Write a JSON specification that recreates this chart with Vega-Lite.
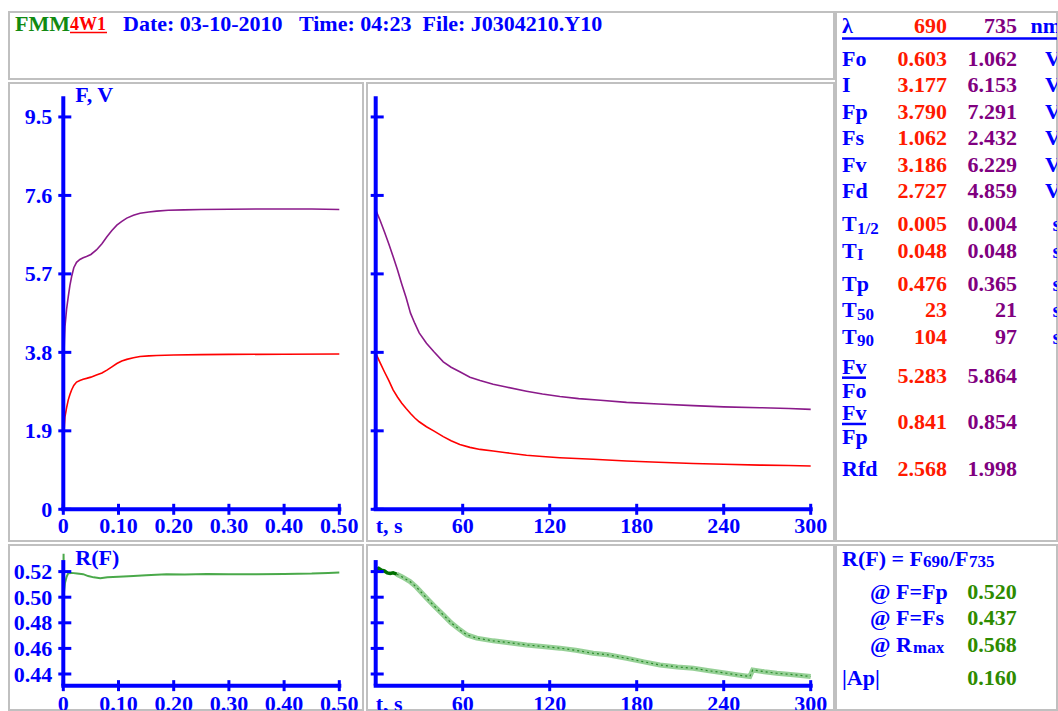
{
"$schema": "https://vega.github.io/schema/vega-lite/v6.json",
"background": "white",
"padding": {"left": 8, "top": 11, "right": 0, "bottom": 0},
"spacing": 0,
"config": {
  "view": {"stroke": "#c0c0c0", "strokeWidth": 2},
  "axis": {"disable": true},
  "legend": {"disable": true},
  "text": {"font": "Liberation Serif", "fontWeight": "bold", "fontSize": 22, "baseline": "alphabetic"},
  "tick": {"opacity": 1}
},
"datasets": {
  "header": [{"program": "FMM", "version": "4W1", "info": "Date: 03-10-2010\u00a0\u00a0\u00a0Time: 04:23\u00a0\u00a0File: J0304210.Y10"}],
  "fastF": [
    {"t":0,"F":0.60,"lambda":"690"},{"t":0.0005,"F":1.3,"lambda":"690"},{"t":0.001,"F":1.8,"lambda":"690"},{"t":0.002,"F":2.05,"lambda":"690"},{"t":0.003,"F":2.24,"lambda":"690"},{"t":0.006,"F":2.46,"lambda":"690"},{"t":0.009,"F":2.65,"lambda":"690"},{"t":0.012,"F":2.78,"lambda":"690"},{"t":0.015,"F":2.89,"lambda":"690"},{"t":0.019,"F":3.0,"lambda":"690"},{"t":0.024,"F":3.08,"lambda":"690"},{"t":0.03,"F":3.12,"lambda":"690"},{"t":0.036,"F":3.15,"lambda":"690"},{"t":0.042,"F":3.17,"lambda":"690"},{"t":0.05,"F":3.2,"lambda":"690"},{"t":0.06,"F":3.25,"lambda":"690"},{"t":0.07,"F":3.3,"lambda":"690"},{"t":0.079,"F":3.37,"lambda":"690"},{"t":0.088,"F":3.45,"lambda":"690"},{"t":0.097,"F":3.53,"lambda":"690"},{"t":0.106,"F":3.59,"lambda":"690"},{"t":0.115,"F":3.63,"lambda":"690"},{"t":0.127,"F":3.67,"lambda":"690"},{"t":0.139,"F":3.70,"lambda":"690"},{"t":0.155,"F":3.715,"lambda":"690"},{"t":0.169,"F":3.725,"lambda":"690"},{"t":0.2,"F":3.735,"lambda":"690"},{"t":0.25,"F":3.745,"lambda":"690"},{"t":0.3,"F":3.75,"lambda":"690"},{"t":0.4,"F":3.755,"lambda":"690"},{"t":0.5,"F":3.76,"lambda":"690"},
    {"t":0,"F":1.06,"lambda":"735"},{"t":0.0005,"F":2.6,"lambda":"735"},{"t":0.001,"F":3.6,"lambda":"735"},{"t":0.002,"F":4.1,"lambda":"735"},{"t":0.003,"F":4.42,"lambda":"735"},{"t":0.006,"F":4.85,"lambda":"735"},{"t":0.009,"F":5.15,"lambda":"735"},{"t":0.012,"F":5.42,"lambda":"735"},{"t":0.015,"F":5.63,"lambda":"735"},{"t":0.019,"F":5.85,"lambda":"735"},{"t":0.024,"F":5.98,"lambda":"735"},{"t":0.03,"F":6.05,"lambda":"735"},{"t":0.036,"F":6.09,"lambda":"735"},{"t":0.042,"F":6.12,"lambda":"735"},{"t":0.05,"F":6.17,"lambda":"735"},{"t":0.06,"F":6.28,"lambda":"735"},{"t":0.07,"F":6.43,"lambda":"735"},{"t":0.079,"F":6.6,"lambda":"735"},{"t":0.088,"F":6.75,"lambda":"735"},{"t":0.097,"F":6.88,"lambda":"735"},{"t":0.106,"F":6.97,"lambda":"735"},{"t":0.115,"F":7.05,"lambda":"735"},{"t":0.127,"F":7.12,"lambda":"735"},{"t":0.139,"F":7.17,"lambda":"735"},{"t":0.155,"F":7.2,"lambda":"735"},{"t":0.169,"F":7.22,"lambda":"735"},{"t":0.19,"F":7.24,"lambda":"735"},{"t":0.218,"F":7.25,"lambda":"735"},{"t":0.25,"F":7.26,"lambda":"735"},{"t":0.3,"F":7.265,"lambda":"735"},{"t":0.35,"F":7.27,"lambda":"735"},{"t":0.4,"F":7.27,"lambda":"735"},{"t":0.45,"F":7.27,"lambda":"735"},{"t":0.5,"F":7.26,"lambda":"735"}
  ],
  "slowF": [
    {"t":0,"F":3.78,"lambda":"690"},{"t":3,"F":3.55,"lambda":"690"},{"t":6,"F":3.33,"lambda":"690"},{"t":9,"F":3.12,"lambda":"690"},{"t":12,"F":2.89,"lambda":"690"},{"t":15,"F":2.72,"lambda":"690"},{"t":18,"F":2.57,"lambda":"690"},{"t":21,"F":2.44,"lambda":"690"},{"t":24,"F":2.32,"lambda":"690"},{"t":27,"F":2.21,"lambda":"690"},{"t":30,"F":2.12,"lambda":"690"},{"t":35,"F":2.0,"lambda":"690"},{"t":40,"F":1.9,"lambda":"690"},{"t":46.6,"F":1.76,"lambda":"690"},{"t":52,"F":1.66,"lambda":"690"},{"t":58,"F":1.57,"lambda":"690"},{"t":65,"F":1.5,"lambda":"690"},{"t":72,"F":1.45,"lambda":"690"},{"t":81,"F":1.41,"lambda":"690"},{"t":90,"F":1.37,"lambda":"690"},{"t":104,"F":1.31,"lambda":"690"},{"t":115,"F":1.28,"lambda":"690"},{"t":127,"F":1.25,"lambda":"690"},{"t":150,"F":1.21,"lambda":"690"},{"t":173,"F":1.17,"lambda":"690"},{"t":195,"F":1.14,"lambda":"690"},{"t":219,"F":1.11,"lambda":"690"},{"t":240,"F":1.09,"lambda":"690"},{"t":265,"F":1.07,"lambda":"690"},{"t":285,"F":1.06,"lambda":"690"},{"t":300,"F":1.05,"lambda":"690"},
    {"t":0,"F":7.25,"lambda":"735"},{"t":3,"F":7.0,"lambda":"735"},{"t":6,"F":6.72,"lambda":"735"},{"t":9,"F":6.43,"lambda":"735"},{"t":12,"F":6.12,"lambda":"735"},{"t":15,"F":5.8,"lambda":"735"},{"t":18,"F":5.45,"lambda":"735"},{"t":21,"F":5.12,"lambda":"735"},{"t":24,"F":4.75,"lambda":"735"},{"t":27,"F":4.5,"lambda":"735"},{"t":30,"F":4.27,"lambda":"735"},{"t":35,"F":4.02,"lambda":"735"},{"t":40,"F":3.82,"lambda":"735"},{"t":46.6,"F":3.57,"lambda":"735"},{"t":52,"F":3.44,"lambda":"735"},{"t":58,"F":3.33,"lambda":"735"},{"t":65,"F":3.2,"lambda":"735"},{"t":72,"F":3.12,"lambda":"735"},{"t":81,"F":3.03,"lambda":"735"},{"t":90,"F":2.96,"lambda":"735"},{"t":104,"F":2.86,"lambda":"735"},{"t":115,"F":2.79,"lambda":"735"},{"t":127,"F":2.73,"lambda":"735"},{"t":140,"F":2.68,"lambda":"735"},{"t":155,"F":2.64,"lambda":"735"},{"t":173,"F":2.59,"lambda":"735"},{"t":195,"F":2.55,"lambda":"735"},{"t":219,"F":2.51,"lambda":"735"},{"t":240,"F":2.48,"lambda":"735"},{"t":265,"F":2.46,"lambda":"735"},{"t":285,"F":2.44,"lambda":"735"},{"t":300,"F":2.42,"lambda":"735"}
  ],
  "fastR": [
    {"t":0,"R":0.503},{"t":0.0005,"R":0.534},{"t":0.001,"R":0.503},{"t":0.003,"R":0.511},{"t":0.006,"R":0.516},{"t":0.009,"R":0.5188},{"t":0.015,"R":0.519},{"t":0.025,"R":0.5185},{"t":0.036,"R":0.518},{"t":0.045,"R":0.5165},{"t":0.055,"R":0.5155},{"t":0.067,"R":0.5148},{"t":0.08,"R":0.5155},{"t":0.1,"R":0.516},{"t":0.127,"R":0.5166},{"t":0.15,"R":0.5172},{"t":0.187,"R":0.518},{"t":0.22,"R":0.5178},{"t":0.26,"R":0.5182},{"t":0.3,"R":0.518},{"t":0.35,"R":0.518},{"t":0.4,"R":0.5182},{"t":0.45,"R":0.5185},{"t":0.48,"R":0.519},{"t":0.5,"R":0.5193}
  ],
  "slowR": [
    {"t":0,"R":0.5213,"part":"early"},{"t":2,"R":0.5225,"part":"early"},{"t":4,"R":0.521,"part":"early"},{"t":6,"R":0.5205,"part":"early"},{"t":8,"R":0.519,"part":"early"},{"t":10,"R":0.5185,"part":"early"},{"t":12,"R":0.519,"part":"early"},{"t":14.5,"R":0.518,"part":"early"},
    {"t":14.5,"R":0.518,"part":"late"},{"t":18,"R":0.516,"part":"late"},{"t":23.7,"R":0.5122,"part":"late"},{"t":28,"R":0.508,"part":"late"},{"t":35.2,"R":0.4992,"part":"late"},{"t":40,"R":0.4935,"part":"late"},{"t":46.6,"R":0.4862,"part":"late"},{"t":52,"R":0.48,"part":"late"},{"t":58.1,"R":0.4745,"part":"late"},{"t":63,"R":0.4705,"part":"late"},{"t":69.7,"R":0.468,"part":"late"},{"t":81.1,"R":0.4659,"part":"late"},{"t":92,"R":0.4645,"part":"late"},{"t":104,"R":0.4627,"part":"late"},{"t":115,"R":0.4615,"part":"late"},{"t":127,"R":0.4602,"part":"late"},{"t":138,"R":0.4585,"part":"late"},{"t":150,"R":0.4562,"part":"late"},{"t":160,"R":0.455,"part":"late"},{"t":173,"R":0.4523,"part":"late"},{"t":185,"R":0.4495,"part":"late"},{"t":196,"R":0.4471,"part":"late"},{"t":208,"R":0.4455,"part":"late"},{"t":219,"R":0.4445,"part":"late"},{"t":230,"R":0.4425,"part":"late"},{"t":242,"R":0.4406,"part":"late"},{"t":250,"R":0.4392,"part":"late"},{"t":258,"R":0.438,"part":"late"},{"t":260,"R":0.4432,"part":"late"},{"t":268,"R":0.4418,"part":"late"},{"t":276.6,"R":0.4406,"part":"late"},{"t":288,"R":0.4395,"part":"late"},{"t":300,"R":0.438,"part":"late"}
  ],
  "fastTicks": [{"v":0,"label":"0"},{"v":0.1,"label":"0.10"},{"v":0.2,"label":"0.20"},{"v":0.3,"label":"0.30"},{"v":0.4,"label":"0.40"},{"v":0.5,"label":"0.50"}],
  "slowTicks": [{"v":60,"label":"60"},{"v":120,"label":"120"},{"v":180,"label":"180"},{"v":240,"label":"240"},{"v":300,"label":"300"}],
  "fTicks": [{"v":0,"label":"0"},{"v":1.9,"label":"1.9"},{"v":3.8,"label":"3.8"},{"v":5.7,"label":"5.7"},{"v":7.6,"label":"7.6"},{"v":9.5,"label":"9.5"}],
  "rTicks": [{"v":0.44,"label":"0.44"},{"v":0.46,"label":"0.46"},{"v":0.48,"label":"0.48"},{"v":0.50,"label":"0.50"},{"v":0.52,"label":"0.52"}],
  "table": [
    {"key":"λ","label":"λ","v690":"690","v735":"735","unit":"nm"},
    {"key":"Fo","label":"Fo","v690":"0.603","v735":"1.062","unit":"V"},
    {"key":"I","label":"I","v690":"3.177","v735":"6.153","unit":"V"},
    {"key":"Fp","label":"Fp","v690":"3.790","v735":"7.291","unit":"V"},
    {"key":"Fs","label":"Fs","v690":"1.062","v735":"2.432","unit":"V"},
    {"key":"Fv","label":"Fv","v690":"3.186","v735":"6.229","unit":"V"},
    {"key":"Fd","label":"Fd","v690":"2.727","v735":"4.859","unit":"V"},
    {"key":"T1/2","label":"T","sub":"1/2","v690":"0.005","v735":"0.004","unit":"s"},
    {"key":"TI","label":"T","sub":"I","v690":"0.048","v735":"0.048","unit":"s"},
    {"key":"Tp","label":"Tp","v690":"0.476","v735":"0.365","unit":"s"},
    {"key":"T50","label":"T","sub":"50","v690":"23","v735":"21","unit":"s"},
    {"key":"T90","label":"T","sub":"90","v690":"104","v735":"97","unit":"s"},
    {"key":"Fv/Fo","num":"Fv","den":"Fo","v690":"5.283","v735":"5.864"},
    {"key":"Fv/Fp","num":"Fv","den":"Fp","v690":"0.841","v735":"0.854"},
    {"key":"Rfd","label":"Rfd","v690":"2.568","v735":"1.998"}
  ],
  "ratio": [
    {"key":"R(F)","label":"R(F) = F","sub":"690","label2":"/F","sub2":"735"},
    {"key":"@Fp","label":"@ F=Fp","value":"0.520"},
    {"key":"@Fs","label":"@ F=Fs","value":"0.437"},
    {"key":"@Rmax","label":"@ R","sub":"max","value":"0.568"},
    {"key":"|Ap|","label":"|Ap|","value":"0.160"}
  ]
},
"hconcat": [
 {"spacing": 2, "vconcat": [
  {"width": 825, "height": 67, "data": {"name": "header"},
   "layer": [
    {"mark": {"type": "text", "align": "left", "dy": -14.5, "color": "#118a11"},
     "encoding": {"x": {"datum": "program", "type": "nominal", "scale": {"type": "point", "domain": ["program","version","info"], "range": [6, 114], "padding": 0}},
                  "y": {"datum": "title", "type": "nominal", "scale": {"type": "point", "domain": ["title"], "padding": 0}},
                  "text": {"field": "program"}}},
    {"mark": {"type": "text", "align": "left", "dx": 1, "dy": -15.8, "fontSize": 18, "color": "#ff0000"},
     "encoding": {"x": {"datum": "version", "type": "nominal"}, "y": {"datum": "title", "type": "nominal"}, "text": {"field": "version"}}},
    {"mark": {"type": "rule", "color": "#ff0000", "strokeWidth": 1.5, "xOffset": 1, "x2Offset": -16, "yOffset": -13},
     "encoding": {"x": {"datum": "version", "type": "nominal"}, "x2": {"datum": "info"}, "y": {"datum": "title", "type": "nominal"}}},
    {"mark": {"type": "text", "align": "left", "dy": -14.5, "color": "#0000ff"},
     "encoding": {"x": {"datum": "info", "type": "nominal"}, "y": {"datum": "title", "type": "nominal"}, "text": {"field": "info"}}}
   ]},
  {"spacing": 2, "hconcat": [
   {"width": 354, "height": 458,
    "layer": [
     {"data": {"name": "fastF"}, "mark": {"type": "line", "strokeWidth": 1.6},
      "encoding": {"x": {"field": "t", "type": "quantitative", "scale": {"domain": [-0.09837, 0.54293], "nice": false, "zero": false}},
                   "y": {"field": "F", "type": "quantitative", "scale": {"domain": [-0.7676, 10.322], "nice": false, "zero": false}},
                   "color": {"field": "lambda", "type": "nominal", "scale": {"domain": ["690","735"], "range": ["#ff0000","#8a1a8a"]}, "legend": null}}},
     {"data": {"values": [{}]}, "mark": {"type": "rule", "color": "#0000ff", "strokeWidth": 4},
      "encoding": {"x": {"datum": 0}, "y": {"datum": 0}, "y2": {"datum": 10}}},
     {"data": {"values": [{}]}, "mark": {"type": "rule", "color": "#0000ff", "strokeWidth": 4, "strokeCap": "square"},
      "encoding": {"x": {"datum": 0}, "x2": {"datum": 0.5}, "y": {"datum": 0}}},
     {"data": {"name": "fastTicks"}, "mark": {"type": "tick", "orient": "vertical", "size": 11, "thickness": 3, "color": "#0000ff"},
      "encoding": {"x": {"field": "v", "type": "quantitative"}, "y": {"datum": 0}}},
     {"data": {"name": "fastTicks"}, "mark": {"type": "text", "align": "center", "dy": 24, "color": "#0000ff"},
      "encoding": {"x": {"field": "v", "type": "quantitative"}, "y": {"datum": 0}, "text": {"field": "label"}}},
     {"data": {"name": "fTicks"}, "mark": {"type": "tick", "orient": "horizontal", "size": 13, "thickness": 3, "color": "#0000ff", "xOffset": 1.5},
      "encoding": {"x": {"datum": 0}, "y": {"field": "v", "type": "quantitative"}}},
     {"data": {"name": "fTicks"}, "mark": {"type": "text", "align": "right", "dx": -11, "dy": 7.5, "color": "#0000ff"},
      "encoding": {"x": {"datum": 0}, "y": {"field": "v", "type": "quantitative"}, "text": {"field": "label"}}},
     {"data": {"values": [{}]}, "mark": {"type": "text", "align": "left", "dx": 12, "dy": 6, "color": "#0000ff"},
      "encoding": {"x": {"datum": 0}, "y": {"datum": 10}, "text": {"value": "F, V"}}}
    ]},
   {"width": 467, "height": 458,
    "layer": [
     {"data": {"name": "slowF"}, "mark": {"type": "line", "strokeWidth": 1.6},
      "encoding": {"x": {"field": "t", "type": "quantitative", "scale": {"domain": [-6.0, 316.07], "nice": false, "zero": false}},
                   "y": {"field": "F", "type": "quantitative", "scale": {"domain": [-0.7676, 10.322], "nice": false, "zero": false}},
                   "color": {"field": "lambda", "type": "nominal", "scale": {"domain": ["690","735"], "range": ["#ff0000","#8a1a8a"]}, "legend": null}}},
     {"data": {"values": [{}]}, "mark": {"type": "rule", "color": "#0000ff", "strokeWidth": 4},
      "encoding": {"x": {"datum": 0}, "y": {"datum": 0}, "y2": {"datum": 10}}},
     {"data": {"values": [{}]}, "mark": {"type": "rule", "color": "#0000ff", "strokeWidth": 4, "strokeCap": "square"},
      "encoding": {"x": {"datum": 0}, "x2": {"datum": 300}, "y": {"datum": 0}}},
     {"data": {"name": "slowTicks"}, "mark": {"type": "tick", "orient": "vertical", "size": 11, "thickness": 3, "color": "#0000ff"},
      "encoding": {"x": {"field": "v", "type": "quantitative"}, "y": {"datum": 0}}},
     {"data": {"name": "slowTicks"}, "mark": {"type": "text", "align": "center", "dy": 24, "color": "#0000ff"},
      "encoding": {"x": {"field": "v", "type": "quantitative"}, "y": {"datum": 0}, "text": {"field": "label"}}},
     {"data": {"values": [{}]}, "mark": {"type": "text", "align": "left", "dy": 24, "color": "#0000ff"},
      "encoding": {"x": {"datum": 0}, "y": {"datum": 0}, "text": {"value": "t, s"}}},
     {"data": {"name": "fTicks"}, "mark": {"type": "tick", "orient": "horizontal", "size": 13, "thickness": 3, "color": "#0000ff", "xOffset": 1.5},
      "encoding": {"x": {"datum": 0}, "y": {"field": "v", "type": "quantitative"}}}
    ]}
  ]},
  {"spacing": 2, "hconcat": [
   {"width": 354, "height": 165,
    "layer": [
     {"data": {"name": "fastR"}, "mark": {"type": "line", "strokeWidth": 2, "color": "#36a036", "opacity": 0.9},
      "encoding": {"x": {"field": "t", "type": "quantitative", "scale": {"domain": [-0.09837, 0.54293], "nice": false, "zero": false}},
                   "y": {"field": "R", "type": "quantitative", "scale": {"domain": [0.41188, 0.54078], "nice": false, "zero": false}}}},
     {"data": {"values": [{}]}, "mark": {"type": "rule", "color": "#0000ff", "strokeWidth": 4},
      "encoding": {"x": {"datum": 0}, "y": {"datum": 0.4309}, "y2": {"datum": 0.529}}},
     {"data": {"values": [{}]}, "mark": {"type": "rule", "color": "#0000ff", "strokeWidth": 4, "strokeCap": "square"},
      "encoding": {"x": {"datum": 0}, "x2": {"datum": 0.5}, "y": {"datum": 0.4309}}},
     {"data": {"name": "fastTicks"}, "mark": {"type": "tick", "orient": "vertical", "size": 11, "thickness": 3, "color": "#0000ff"},
      "encoding": {"x": {"field": "v", "type": "quantitative"}, "y": {"datum": 0.4309}}},
     {"data": {"name": "fastTicks"}, "mark": {"type": "text", "align": "center", "dy": 25, "color": "#0000ff", "clip": true},
      "encoding": {"x": {"field": "v", "type": "quantitative"}, "y": {"datum": 0.4309}, "text": {"field": "label"}}},
     {"data": {"name": "rTicks"}, "mark": {"type": "tick", "orient": "horizontal", "size": 13, "thickness": 3, "color": "#0000ff", "xOffset": 1.5},
      "encoding": {"x": {"datum": 0}, "y": {"field": "v", "type": "quantitative"}}},
     {"data": {"name": "rTicks"}, "mark": {"type": "text", "align": "right", "dx": -11, "dy": 7.5, "color": "#0000ff"},
      "encoding": {"x": {"datum": 0}, "y": {"field": "v", "type": "quantitative"}, "text": {"field": "label"}}},
     {"data": {"values": [{}]}, "mark": {"type": "text", "align": "left", "dx": 12, "dy": 5, "color": "#0000ff"},
      "encoding": {"x": {"datum": 0}, "y": {"datum": 0.529}, "text": {"value": "R(F)"}}}
    ]},
   {"width": 467, "height": 165,
    "layer": [
     {"data": {"name": "slowR"}, "transform": [{"filter": "datum.part === 'late'"}], "mark": {"type": "line", "strokeWidth": 5, "color": "#7cc47c", "opacity": 0.8},
      "encoding": {"x": {"field": "t", "type": "quantitative", "scale": {"domain": [-6.0, 316.07], "nice": false, "zero": false}},
                   "y": {"field": "R", "type": "quantitative", "scale": {"domain": [0.41188, 0.54078], "nice": false, "zero": false}}}},
     {"data": {"name": "slowR"}, "transform": [{"filter": "datum.part === 'late'"}], "mark": {"type": "line", "strokeWidth": 1.2, "color": "#2a8a2a", "strokeDash": [2, 3]},
      "encoding": {"x": {"field": "t", "type": "quantitative"}, "y": {"field": "R", "type": "quantitative"}}},
     {"data": {"name": "slowR"}, "transform": [{"filter": "datum.part === 'early'"}], "mark": {"type": "line", "strokeWidth": 3.5, "color": "#007000"},
      "encoding": {"x": {"field": "t", "type": "quantitative"}, "y": {"field": "R", "type": "quantitative"}}},
     {"data": {"values": [{}]}, "mark": {"type": "rule", "color": "#0000ff", "strokeWidth": 4},
      "encoding": {"x": {"datum": 0}, "y": {"datum": 0.4309}, "y2": {"datum": 0.529}}},
     {"data": {"values": [{}]}, "mark": {"type": "rule", "color": "#0000ff", "strokeWidth": 4, "strokeCap": "square"},
      "encoding": {"x": {"datum": 0}, "x2": {"datum": 300}, "y": {"datum": 0.4309}}},
     {"data": {"name": "slowTicks"}, "mark": {"type": "tick", "orient": "vertical", "size": 11, "thickness": 3, "color": "#0000ff"},
      "encoding": {"x": {"field": "v", "type": "quantitative"}, "y": {"datum": 0.4309}}},
     {"data": {"name": "slowTicks"}, "mark": {"type": "text", "align": "center", "dy": 25, "color": "#0000ff", "clip": true},
      "encoding": {"x": {"field": "v", "type": "quantitative"}, "y": {"datum": 0.4309}, "text": {"field": "label"}}},
     {"data": {"values": [{}]}, "mark": {"type": "text", "align": "left", "dy": 25, "color": "#0000ff", "clip": true},
      "encoding": {"x": {"datum": 0}, "y": {"datum": 0.4309}, "text": {"value": "t, s"}}},
     {"data": {"name": "rTicks"}, "mark": {"type": "tick", "orient": "horizontal", "size": 13, "thickness": 3, "color": "#0000ff", "xOffset": 1.5},
      "encoding": {"x": {"datum": 0}, "y": {"field": "v", "type": "quantitative"}}}
    ]}
  ]}
 ]},
 {"spacing": 2, "vconcat": [
  {"width": 221, "height": 529, "data": {"name": "table"},
   "encoding": {"y": {"field": "key", "type": "nominal", "scale": {"type": "point", "padding": 0, "domain": ["_0","_1","λ","_3","_u","_5","_6","Fo","_8","_9","_10","I","_12","_13","_14","Fp","_16","_17","_18","Fs","_20","_21","_22","Fv","_24","_25","_26","Fd","_28","_29","_30","_31","T1/2","_33","_34","_35","TI","_37","_38","_39","_40","Tp","_42","_43","_44","T50","_46","_47","_48","T90","_50","_51","_52","_53","_54","Fv/Fo","_56","_57","_58","_59","_60","_61","Fv/Fp","_63","_64","_65","_66","_67","_68","Rfd","_70","_71","_72","_73","_74","_75","_76","_77","_78","_79","_80"]}}},
   "layer": [
    {"transform": [{"filter": "isValid(datum.label)"}], "mark": {"type": "text", "align": "left", "dy": 7.5, "color": "#0000ff"},
     "encoding": {"x": {"datum": "name", "type": "nominal", "scale": {"type": "point", "domain": ["name","v690","v735","unit"], "range": [6, 225], "padding": 0}}, "text": {"field": "label"}}},
    {"transform": [{"filter": "isValid(datum.sub)"}], "mark": {"type": "text", "align": "left", "dx": 15, "dy": 10, "fontSize": 17, "color": "#0000ff"},
     "encoding": {"x": {"datum": "name", "type": "nominal"}, "text": {"field": "sub"}}},
    {"transform": [{"filter": "isValid(datum.num)"}], "mark": {"type": "text", "align": "left", "dy": -1.5, "color": "#0000ff"},
     "encoding": {"x": {"datum": "name", "type": "nominal"}, "text": {"field": "num"}}},
    {"transform": [{"filter": "isValid(datum.den)"}], "mark": {"type": "text", "align": "left", "dy": 22, "color": "#0000ff"},
     "encoding": {"x": {"datum": "name", "type": "nominal"}, "text": {"field": "den"}}},
    {"transform": [{"filter": "isValid(datum.num)"}], "mark": {"type": "rule", "color": "#0000ff", "strokeWidth": 2.5, "x2Offset": 24, "yOffset": 2},
     "encoding": {"x": {"datum": "name", "type": "nominal"}, "x2": {"datum": "name"}}},
    {"mark": {"type": "text", "align": "right", "dx": 32, "dy": 7.5, "color": "#ff1a00"},
     "encoding": {"x": {"datum": "v690", "type": "nominal"}, "text": {"field": "v690"}}},
    {"mark": {"type": "text", "align": "right", "dx": 29, "dy": 7.5, "color": "#800080"},
     "encoding": {"x": {"datum": "v735", "type": "nominal"}, "text": {"field": "v735"}}},
    {"transform": [{"filter": "isValid(datum.unit)"}], "mark": {"type": "text", "align": "right", "dy": 7.5, "color": "#0000ff", "clip": true},
     "encoding": {"x": {"datum": "unit", "type": "nominal"}, "text": {"field": "unit"}}},
    {"data": {"values": [{}]}, "mark": {"type": "rule", "color": "#0000ff", "strokeWidth": 2.5, "clip": true},
     "encoding": {"x": {"datum": "name", "type": "nominal"}, "x2": {"datum": "unit"}, "y": {"datum": "_u", "type": "nominal"}}}
   ]},
  {"width": 221, "height": 165, "data": {"name": "ratio"},
   "encoding": {"y": {"field": "key", "type": "nominal", "scale": {"type": "point", "padding": 0, "domain": ["_0","_1","R(F)","_3","_4","_5","_6","@Fp","_8","_9","_10","@Fs","_12","_13","_14","@Rmax","_16","_17","_18","_19","|Ap|","_21","_22","_23","_24","_25"]}}},
   "layer": [
    {"transform": [{"filter": "datum.key === 'R(F)' || datum.key === '|Ap|'"}], "mark": {"type": "text", "align": "left", "dy": 7.5, "color": "#0000ff"},
     "encoding": {"x": {"datum": "name", "type": "nominal", "scale": {"type": "point", "domain": ["name","v690","v735","unit"], "range": [6, 225], "padding": 0}}, "text": {"field": "label"}}},
    {"transform": [{"filter": "indexof(datum.key, '@') === 0"}], "mark": {"type": "text", "align": "left", "dx": 28, "dy": 7.5, "color": "#0000ff"},
     "encoding": {"x": {"datum": "name", "type": "nominal"}, "text": {"field": "label"}}},
    {"transform": [{"filter": "datum.key === 'R(F)'"}], "mark": {"type": "text", "align": "left", "dx": 81, "dy": 9, "fontSize": 17, "color": "#0000ff"},
     "encoding": {"x": {"datum": "name", "type": "nominal"}, "text": {"field": "sub"}}},
    {"transform": [{"filter": "datum.key === 'R(F)'"}], "mark": {"type": "text", "align": "left", "dx": 107, "dy": 7.5, "color": "#0000ff"},
     "encoding": {"x": {"datum": "name", "type": "nominal"}, "text": {"field": "label2"}}},
    {"transform": [{"filter": "datum.key === 'R(F)'"}], "mark": {"type": "text", "align": "left", "dx": 127, "dy": 9, "fontSize": 17, "color": "#0000ff"},
     "encoding": {"x": {"datum": "name", "type": "nominal"}, "text": {"field": "sub2"}}},
    {"transform": [{"filter": "datum.key === '@Rmax'"}], "mark": {"type": "text", "align": "left", "dx": 71, "dy": 9, "fontSize": 17, "color": "#0000ff"},
     "encoding": {"x": {"datum": "name", "type": "nominal"}, "text": {"field": "sub"}}},
    {"transform": [{"filter": "isValid(datum.value)"}], "mark": {"type": "text", "align": "right", "dx": 28.7, "dy": 7.5, "color": "#2e8b00"},
     "encoding": {"x": {"datum": "v735", "type": "nominal"}, "text": {"field": "value"}}}
   ]}
 ]}
]
}
